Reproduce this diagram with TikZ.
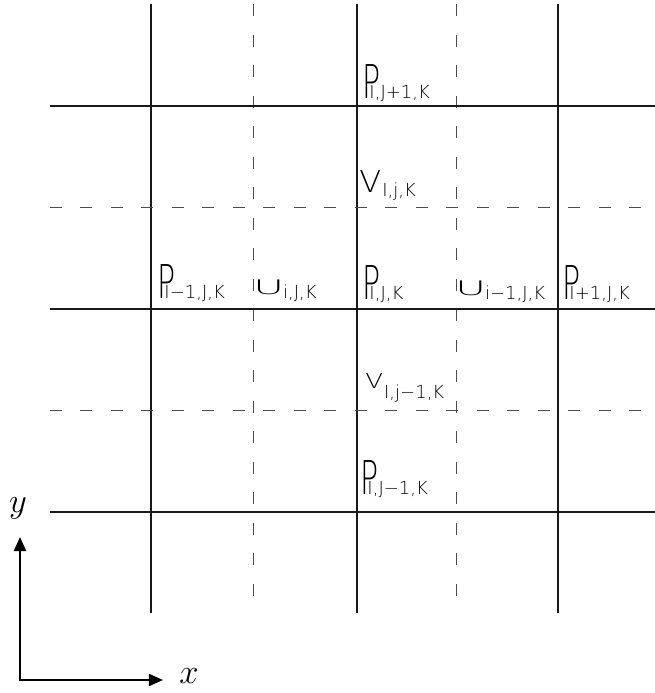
\documentclass[tikz,border=0pt]{standalone}
\usepackage{fontspec}
\usepackage{graphicx}
\usepackage{tikz}
\usetikzlibrary{arrows.meta,positioning}
\IfFontExistsTF{DejaVu Sans ExtraLight}
  {\newfontfamily\cadfont{DejaVu Sans ExtraLight}}
  {\newcommand{\cadfont}{\sffamily}}
\tikzset{
  gridline/.style={draw=black!90,line width=0.6pt},
  halfline/.style={draw=black!70,line width=0.5pt,dash pattern=on 6pt off 9.25pt},
  cellbox/.style={anchor=base west,inner sep=0pt,font=\cadfont},
  axislab/.style={inner sep=0pt,font=\fontsize{19}{19}\selectfont},
  axisarr/.style={{Triangle[length=7pt,width=6pt]}-{Triangle[length=7pt,width=6pt]},line width=1pt}
}
\newcommand{\idx}[1]{{\fontsize{9}{9}\selectfont #1}}
\newcommand{\Pbig}{\scalebox{1.5}[2.33]{P}\kern-5.5pt}
\newcommand{\Ubig}{\raisebox{2pt}{\scalebox{2.1}[1.0]{U}}\kern-0.5pt}
\newcommand{\Vbig}[3]{\raisebox{#3}{\scalebox{#1}[#2]{V}}\kern0.5pt}

\begin{document}
\begin{tikzpicture}[x=0.5pt,y=-0.5pt]
  \useasboundingbox (0,0) rectangle (655,693);

  %% Staggered grid: cell faces solid, half-cell lines dashed
  \foreach \gx in {151,357,558} \draw[gridline] (\gx,4) -- (\gx,613);
  \foreach \gx in {254,457} \draw[halfline] (\gx,4) -- (\gx,613);
  \foreach \gy in {106,309,512} \draw[gridline] (50,\gy) -- (655,\gy);
  \foreach \gy in {207,410} \draw[halfline] (50,\gy) -- (655,\gy);

  %% Pressure and velocity labels
  \node[cellbox] (pIJp) at (362,98)  {\Pbig\idx{I,J+1,K}};
  \node[cellbox] (vIjK) at (359,196) {\Vbig{1.6}{1.5}{2pt}\idx{I,j,K}};
  \node[cellbox] (pImJ) at (157,298) {\Pbig\idx{I−1,J,K}};
  \node[cellbox] (uijK) at (253,298) {\Ubig\idx{i,J,K}};
  \node[cellbox] (pIJK) at (362,299) {\Pbig\idx{I,J,K}};
  \node[cellbox] (uimJ) at (455,299) {\Ubig\idx{i−1,J,K}};
  \node[cellbox] (pIpJ) at (562,299) {\Pbig\idx{I+1,J,K}};
  \node[cellbox] (vIjm) at (365,398) {\Vbig{1.3}{1.03}{5pt}\idx{I,j−1,K}};
  \node[cellbox] (pIJm) at (360,494) {\Pbig\idx{I,J−1,K}};

  %% Axes
  \coordinate (origin) at (20,680);
  \coordinate (ytip) at (20,537);
  \coordinate (xtip) at (163,680);
  \draw[axisarr] (ytip) -- (origin) -- (xtip);
  \node[axislab] (ylab) at (18,508) {$y$};
  \node[axislab] (xlab) at (189,676) {$x$};
\end{tikzpicture}
\end{document}
